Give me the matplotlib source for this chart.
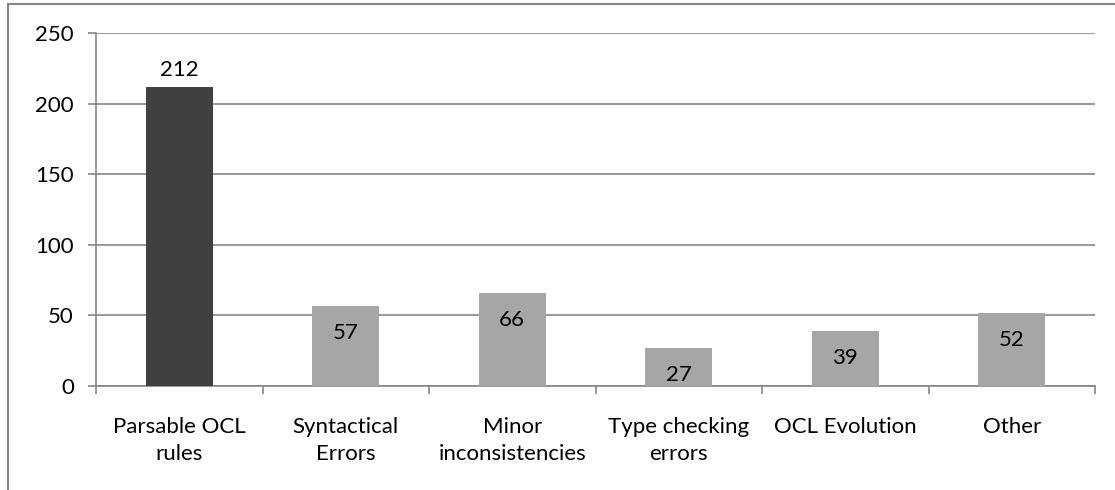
import matplotlib.pyplot as plt
from matplotlib.patches import Rectangle

categories = ["Parsable OCL\nrules", "Syntactical\nErrors", "Minor\ninconsistencies",
              "Type checking\nerrors", "OCL Evolution", "Other"]
values = [212, 57, 66, 27, 39, 52]
bar_colors = ["#404040", "#a6a6a6", "#a6a6a6", "#a6a6a6", "#a6a6a6", "#a6a6a6"]
yticks = [0, 50, 100, 150, 200, 250]

GRAY = "#868686"
FS = 16
plt.rcParams["font.family"] = ["Lato", "DejaVu Sans"]

fig = plt.figure(figsize=(11.15, 4.9), dpi=100)
ax = fig.add_axes([96 / 1115, 1 - 386 / 490, (1095 - 96) / 1115, (386 - 33) / 490])

x = list(range(len(values)))
ax.bar(x, values, width=0.4, color=bar_colors, zorder=3)
ax.set_xlim(-0.5, len(values) - 0.5)
ax.set_ylim(0, 250)
ax.set_yticks(yticks)
ax.yaxis.grid(True, color=GRAY, linewidth=1.2, zorder=0)

for spine in ["top", "right"]:
    ax.spines[spine].set_visible(False)
for spine in ["left", "bottom"]:
    ax.spines[spine].set_color(GRAY)
    ax.spines[spine].set_linewidth(1.2)

ax.tick_params(axis="y", length=6, color=GRAY, width=1.2, labelsize=FS, pad=10)
# category labels sit between boundary ticks
ax.set_xticks([i - 0.5 for i in range(len(values) + 1)])
ax.set_xticklabels([])
ax.tick_params(axis="x", length=6, color=GRAY, width=1.2)
for i, lab in enumerate(categories):
    ax.annotate(lab, (i, 0), xycoords=("data", "data"), xytext=(0, -22.5),
                textcoords="offset points", ha="center", va="top",
                fontsize=FS, linespacing=1.4)

for i, v in enumerate(values):
    if i == 0:
        ax.annotate(str(v), (i, v), xytext=(0, 12), textcoords="offset points",
                    ha="center", va="center", fontsize=FS)
    else:
        ax.annotate(str(v), (i, v), xytext=(0, -19.5), textcoords="offset points",
                    ha="center", va="center", fontsize=FS, zorder=4)

# outer chart frame (runs off the right and bottom edges)
fig.patches.append(Rectangle((8 / 1115, -0.1), 1.2, 1 - 4.5 / 490 + 0.1,
                             transform=fig.transFigure, fill=False,
                             edgecolor=GRAY, linewidth=1.5))

fig.savefig("out.png", dpi=100)
